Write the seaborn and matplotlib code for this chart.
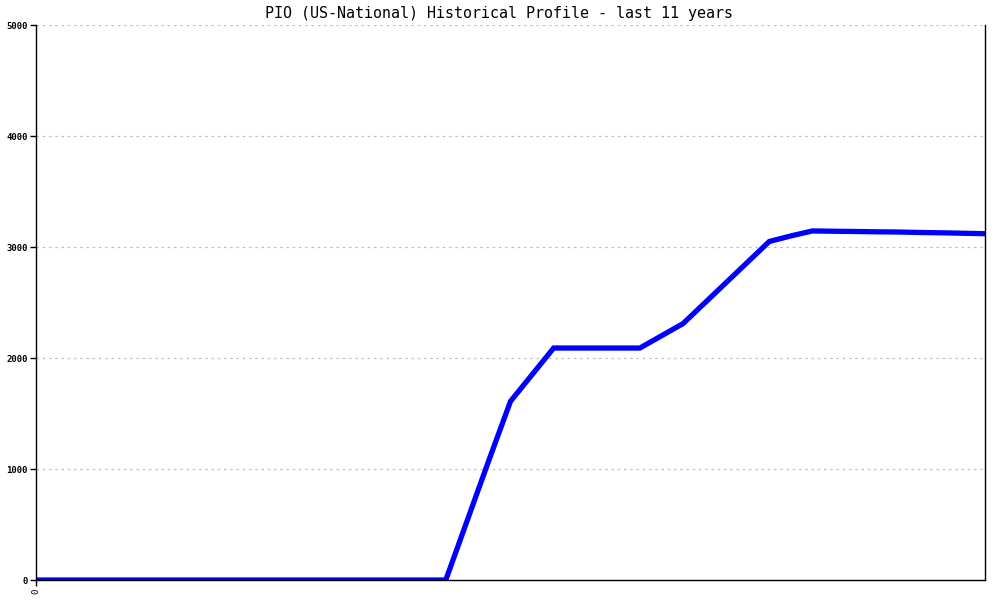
import pandas as pd
import seaborn as sns
import matplotlib.pyplot as plt

# quarterly samples over the last 11 years (45 points)
quarters = list(range(45))
values = [0, 0, 0, 0, 0, 0, 0, 0, 0, 0,
          0, 0, 0, 0, 0, 0, 0, 0, 0, 0,
          540, 1080, 1610, 1850, 2090, 2090, 2090, 2090, 2090, 2200,
          2310, 2495, 2680, 2865, 3050, 3100, 3145, 3142, 3140, 3137,
          3135, 3131, 3128, 3124, 3120]
y_ticks = [0, 1000, 2000, 3000, 4000, 5000]
x_tick_labels = ["0"]
title = "PIO (US-National) Historical Profile - last 11 years"

df = pd.DataFrame({"quarter": quarters, "value": values})

sns.set_style("white")
plt.rcParams['font.family'] = ['DejaVu Sans Mono']
plt.rcParams['text.color'] = 'black'
plt.rcParams['xtick.color'] = 'black'
plt.rcParams['ytick.color'] = 'black'

fig = plt.figure(figsize=(10, 6), dpi=100)
ax = fig.add_axes([0.036, 0.0333, 0.949, 0.925])

sns.lineplot(data=df, x="quarter", y="value", ax=ax, color="#0000ff",
             linewidth=3.8, solid_joinstyle="miter")

ax.set_xlim(0, 44)
ax.set_ylim(0, 5000)
ax.set_yticks(y_ticks)
ax.set_yticklabels([str(v) for v in y_ticks], fontsize=6.5, fontweight="bold")
ax.set_xticks([0])
ax.set_xticklabels(x_tick_labels, rotation=90, fontsize=6.5)
ax.set_xlabel("")
ax.set_ylabel("")

for v in y_ticks[1:]:
    ax.axhline(v, color="#c0c0c0", linestyle=(0, (2, 3)), linewidth=0.9, zorder=0)

ax.tick_params(axis="both", direction="out", length=4, width=1, colors="black", pad=2,
               left=True, bottom=True)
for side in ["left", "bottom", "right"]:
    ax.spines[side].set_color("black")
    ax.spines[side].set_linewidth(1)
ax.spines["top"].set_visible(False)

fig.text(0.499, 0.978, title, ha="center", va="center", fontsize=10.8, color="black")

fig.savefig("out.png", dpi=100)
